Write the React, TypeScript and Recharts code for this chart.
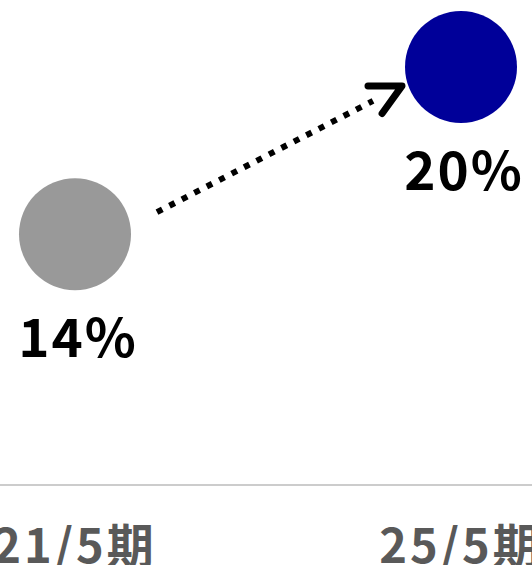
import { LabelList, Line, LineChart, XAxis, YAxis } from "recharts"

const periods = ["21/5期", "25/5期"]
const ratios = [14, 20]
const colors = ["#999999", "#000099"]

const data = periods.map((period, i) => ({ period, ratio: ratios[i] }))

const FONT = '"Noto Sans CJK JP", "Noto Sans", sans-serif'

function Dot(props: any) {
  const { cx, cy, index, points } = props
  const next = points && points[index + 1]
  let arrow = null
  if (next) {
    const x1 = cx + 82
    const y1 = cy - 22
    const x2 = next.x - 88
    const y2 = next.y + 34
    const tipX = next.x - 59
    const tipY = next.y + 19
    const ang = Math.atan2(y2 - y1, x2 - x1)
    const back = ang + Math.PI
    const spread = 0.47
    const len = 34
    arrow = (
      <g>
        <line x1={x1} y1={y1} x2={x2} y2={y2} stroke="#000" strokeWidth={6} strokeDasharray="6 8" />
        <polyline
          points={`${tipX + len * Math.cos(back + spread)},${tipY + len * Math.sin(back + spread)} ${tipX},${tipY} ${tipX + len * Math.cos(back - spread)},${tipY + len * Math.sin(back - spread)}`}
          fill="none"
          stroke="#000"
          strokeWidth={7}
          strokeLinecap="round"
          strokeLinejoin="round"
        />
      </g>
    )
  }
  return (
    <g key={`dot-${index}`}>
      {arrow}
      <circle cx={cx} cy={cy} r={56} fill={colors[index]} />
    </g>
  )
}

function ValueLabel(props: any) {
  const { x, y, value } = props
  return (
    <text
      x={x + 3}
      y={y + 123}
      textAnchor="middle"
      fontSize={53}
      fontWeight="bold"
      letterSpacing={2}
      fontFamily={FONT}
      fill="#000"
    >
      {value}%
    </text>
  )
}

function Tick(props: any) {
  const { x, y, payload } = props
  return (
    <text
      x={x}
      y={y + 70}
      textAnchor="middle"
      fontSize={47}
      fontWeight="bold"
      letterSpacing={3}
      fontFamily={FONT}
      fill="#595959"
    >
      {payload.value}
    </text>
  )
}

export default function App() {
  return (
    <div style={{ position: "absolute", left: 0, top: 0, background: "#fff" }}>
      <LineChart width={532} height={565} data={data} margin={{ top: 0, right: 0, bottom: 0, left: 0 }}>
        <XAxis
          dataKey="period"
          scale="point"
          padding={{ left: 75, right: 71 }}
          height={80}
          tickLine={false}
          axisLine={{ stroke: "#cccccc", strokeWidth: 2 }}
          tick={<Tick />}
          interval={0}
        />
        <YAxis hide domain={[5, 22.4]} />
        <Line
          dataKey="ratio"
          stroke="none"
          dot={(p: any) => <Dot {...p} key={p.index} />}
          activeDot={false}
          isAnimationActive={false}
        >
          <LabelList dataKey="ratio" content={<ValueLabel />} />
        </Line>
      </LineChart>
    </div>
  )
}
